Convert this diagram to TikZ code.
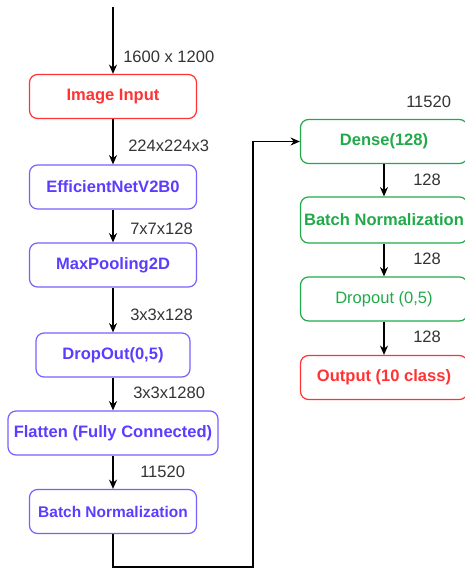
\documentclass[tikz,border=0pt]{standalone}
\usepackage{fontspec}
\setmainfont{Liberation Sans}
\usetikzlibrary{arrows.meta}

\definecolor{inred}{HTML}{FF3333}
\definecolor{netblue}{HTML}{5B3DFF}
\definecolor{netline}{HTML}{7462FF}
\definecolor{fcgreen}{HTML}{22AA4A}
\definecolor{lblgray}{HTML}{333333}

\begin{document}
\begin{tikzpicture}[x=0.75pt,y=-0.75pt,
    layer/.style={draw, rounded corners=6pt, line width=0.9pt,
        minimum width=125.25pt, minimum height=33pt, inner sep=0pt,
        font=\fontsize{12.4}{14}\selectfont\bfseries},
    redbox/.style={layer, draw=inred, text=inred},
    bluebox/.style={layer, draw=netline, text=netblue},
    greenbox/.style={layer, draw=fcgreen, text=fcgreen},
    dim/.style={anchor=west, inner sep=0pt, text=lblgray,
        font=\fontsize{12.4}{14}\selectfont},
    flow/.style={-{Stealth[length=7pt,width=6pt]}, line width=0.8pt}]
    \useasboundingbox (0,0) rectangle (465,569);
    \clip (0,0) rectangle (465,569);

    % left column
    \node[redbox] (input) at (113,96.5) {Image Input};
    \node[bluebox] (effnet) at (113,187) {EfficientNetV2B0};
    \node[bluebox] (maxpool) at (113,265) {MaxPooling2D};
    \node[bluebox, minimum width=115.5pt] (dropa) at (113,355) {DropOut(0,5)};
    \node[bluebox, minimum width=157.5pt] (flatten) at (113,433) {Flatten (Fully Connected)};
    \node[bluebox, font=\fontsize{11.6}{14}\selectfont\bfseries] (bna) at (113,511.5) {Batch Normalization};

    % right column
    \node[greenbox] (dense) at (384,141.5) {Dense(128)};
    \node[greenbox, minimum height=34.5pt] (bnb) at (384,220) {Batch Normalization};
    \node[greenbox, font=\fontsize{12.4}{14}\selectfont] (dropb) at (384,299) {Dropout (0,5)};
    \node[redbox] (output) at (384,377.5) {Output (10 class)};

    \coordinate (start) at (113,7);
    \coordinate (bendlow) at (253,567);

    \draw[flow] (start) -- (input);
    \draw[flow] (input) -- (effnet);
    \draw[flow] (effnet) -- (maxpool);
    \draw[flow] (maxpool) -- (dropa);
    \draw[flow] (dropa) -- (flatten);
    \draw[flow] (flatten) -- (bna);
    \draw[flow] (bna.south) |- (bendlow) |- (dense.west);
    \draw[flow] (dense) -- (bnb);
    \draw[flow] (bnb) -- (dropb);
    \draw[flow] (dropb) -- (output);

    % tensor sizes
    \node[dim] (sz0) at (123,57) {1600 x 1200};
    \node[dim] (sz1) at (128,146) {224x224x3};
    \node[dim] (sz2) at (130,229) {7x7x128};
    \node[dim] (sz3) at (130,315) {3x3x128};
    \node[dim] (sz4) at (133,393) {3x3x1280};
    \node[dim] (sz5) at (140,472) {11520};
    \node[dim] (sz6) at (406,102) {11520};
    \node[dim] (sz7) at (413,180) {128};
    \node[dim] (sz8) at (413,259) {128};
    \node[dim] (sz9) at (413,337) {128};
\end{tikzpicture}
\end{document}
